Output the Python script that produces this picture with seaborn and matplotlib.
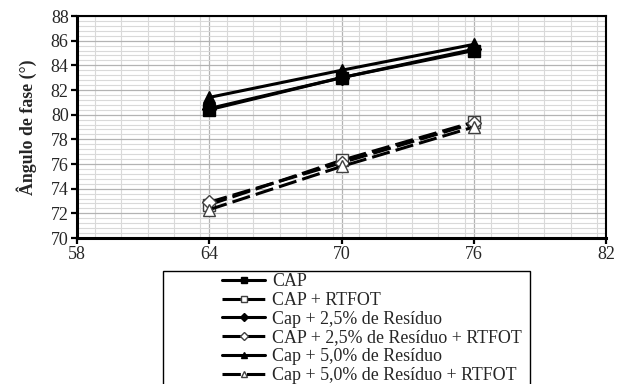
import matplotlib
matplotlib.use("Agg")
import matplotlib.pyplot as plt
from matplotlib.patches import Rectangle
from matplotlib.ticker import MultipleLocator
import numpy as np
import pandas as pd
import seaborn as sns

# Temperatures (°C) and phase angles (°)
temperatura = [64, 70, 76]
cap = [80.4, 83.0, 85.2]
cap_rtfot = [72.7, 76.3, 79.4]
cap_25 = [80.5, 83.0, 85.3]
cap_25_rtfot = [72.9, 76.1, 79.3]
cap_50 = [81.4, 83.6, 85.7]
cap_50_rtfot = [72.3, 75.8, 79.0]

series_names = [
    "CAP",
    "CAP + RTFOT",
    "Cap + 2,5% de Resíduo",
    "CAP + 2,5% de Resíduo + RTFOT",
    "Cap + 5,0% de Resíduo",
    "Cap + 5,0% de Resíduo + RTFOT",
]
series_values = [cap, cap_rtfot, cap_25, cap_25_rtfot, cap_50, cap_50_rtfot]

x_ticks = [58, 64, 70, 76, 82]
y_ticks = [70, 72, 74, 76, 78, 80, 82, 84, 86, 88]

sns.set_theme(style="white")
plt.rcParams["font.family"] = ["Liberation Serif", "DejaVu Serif"]

fig = plt.figure(figsize=(6.22, 3.84), dpi=100)
ax = fig.add_axes([77 / 622, 1 - 238 / 384, (606 - 77) / 622, (238 - 16) / 384])

styles = {
    "CAP": dict(marker="s", mfc="black", mec="black", dashes=None),
    "CAP + RTFOT": dict(marker="s", mfc="white", mec="#404040", dashes=(6.0, 2.0)),
    "Cap + 2,5% de Resíduo": dict(marker="D", mfc="black", mec="black", dashes=None),
    "CAP + 2,5% de Resíduo + RTFOT": dict(marker="D", mfc="white", mec="#404040", dashes=(6.0, 2.0)),
    "Cap + 5,0% de Resíduo": dict(marker="^", mfc="black", mec="black", dashes=None),
    "Cap + 5,0% de Resíduo + RTFOT": dict(marker="^", mfc="white", mec="#404040", dashes=(6.0, 2.0)),
}

for name, vals in zip(series_names, series_values):
    st = styles[name]
    df = pd.DataFrame({"Temperatura": temperatura, "Ângulo": vals})
    ms = 7.0 if st["marker"] == "D" else 8.0
    sns.lineplot(
        data=df, x="Temperatura", y="Ângulo", ax=ax, color="black",
        linewidth=2.2, marker=st["marker"], markersize=ms,
        markerfacecolor=st["mfc"], markeredgecolor=st["mec"], markeredgewidth=1.0,
        label=name, legend=False,
    )
    line = ax.get_lines()[-1]
    if st["dashes"] is not None:
        line.set_dashes(st["dashes"])

ax.set_xlim(58, 82)
ax.set_ylim(70, 88)
ax.set_xticks(x_ticks)
ax.set_yticks(y_ticks)
ax.xaxis.set_minor_locator(MultipleLocator(1.2))
ax.yaxis.set_minor_locator(MultipleLocator(0.4))
ax.grid(which="major", color="#b3b3b3", linewidth=0.9)
ax.grid(which="minor", color="#d9d9d9", linewidth=0.8)
ax.set_axisbelow(True)

ax.tick_params(axis="both", which="major", direction="out", length=4, width=1.6,
               color="black", labelsize=13, pad=2, bottom=True, left=True)
ax.tick_params(axis="both", which="minor", length=0)

for side in ["left", "bottom"]:
    ax.spines[side].set_linewidth(2.2)
    ax.spines[side].set_color("black")
for side in ["top", "right"]:
    ax.spines[side].set_linewidth(1.5)
    ax.spines[side].set_color("black")

ax.set_xlabel("")
ax.set_ylabel("Ângulo de fase (°)", fontsize=12.8, fontweight="bold", labelpad=10)

handles, labels = ax.get_legend_handles_labels()
leg = fig.legend(
    handles, labels, loc="upper left", bbox_to_anchor=(222 / 622, 1 - 273 / 384),
    frameon=False, fontsize=12.9, handlelength=2.4, handletextpad=0.38,
    labelspacing=0.1, markerscale=0.6, borderaxespad=0, borderpad=0,
)
fig.patches.append(Rectangle((163 / 622, -0.05), (530 - 163) / 622, 1 - 271 / 384 + 0.05,
                             transform=fig.transFigure, fill=False,
                             edgecolor="black", linewidth=1.0))

fig.savefig("out.png", dpi=100)
